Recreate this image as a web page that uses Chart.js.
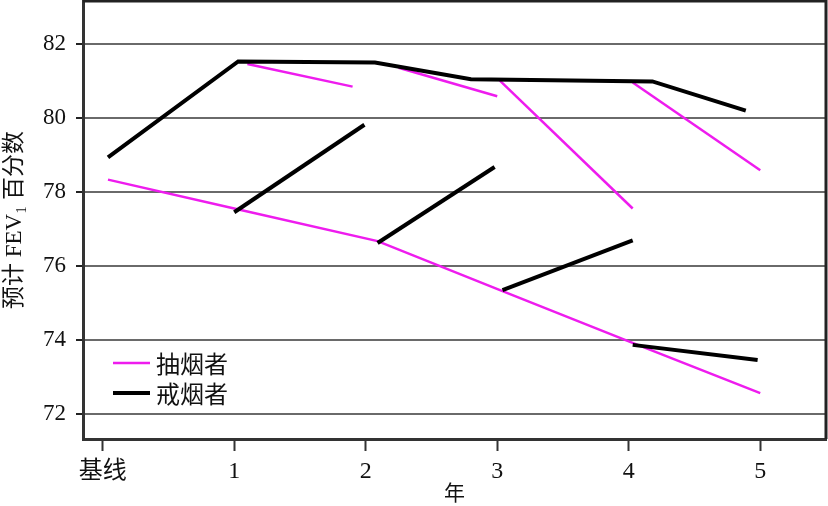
<!DOCTYPE html>
<html>
<head>
<meta charset="utf-8">
<script src="https://cdn.jsdelivr.net/npm/chart.js@4/dist/chart.umd.min.js"></script>
<style>
  html, body { margin: 0; padding: 0; background: #fff; }
  #wrap { width: 828px; height: 506px; }
</style>
</head>
<body>
<div id="wrap"><canvas id="fev"></canvas></div>
<script>
// category labels and ticks
const xLabels = ['基线', '1', '2', '3', '4', '5']
const yTicks = [72, 74, 76, 78, 80, 82]
const seriesNames = ['抽烟者', '戒烟者']

// smokers, main trajectory
const smokerX = [0.04, 1.0, 2.09, 3.04, 4.01, 5.0]
const smokerY = [78.33, 77.55, 76.67, 75.32, 73.95, 72.57]
// smokers, short branches (start, end)
const smokerSegX = [[1.1, 1.9], [2.25, 3.0], [3.02, 4.03], [4.03, 5.0]]
const smokerSegY = [[81.45, 80.84], [81.35, 80.58], [81.0, 77.55], [80.95, 78.58]]

// quitters, main trajectory
const quitterX = [0.04, 1.03, 2.07, 2.8, 4.18, 4.89]
const quitterY = [78.93, 81.52, 81.49, 81.04, 80.98, 80.19]
// quitters, short branches (start, end)
const quitterSegX = [[1.0, 1.99], [2.09, 2.98], [3.04, 4.03], [4.03, 4.98]]
const quitterSegY = [[77.45, 79.81], [76.62, 78.67], [75.35, 76.69], [73.87, 73.46]]

const magenta = '#ee1cee'
const black = '#000000'
const serif = "'Liberation Serif', 'Noto Sans CJK SC', serif"

function pts (xs, ys) {
  return xs.map((x, i) => ({ x: x, y: ys[i] }))
}

function line (data, color, width) {
  return {
    data: data,
    borderColor: color,
    backgroundColor: color,
    borderWidth: width,
    pointRadius: 0,
    tension: 0,
    borderCapStyle: 'butt',
    borderJoinStyle: 'miter'
  }
}

const datasets = []
// black first so it sits on top
datasets.push(line(pts(quitterX, quitterY), black, 4))
quitterSegX.forEach((xs, i) => datasets.push(line(pts(xs, quitterSegY[i]), black, 4)))
datasets.push(line(pts(smokerX, smokerY), magenta, 2.5))
smokerSegX.forEach((xs, i) => datasets.push(line(pts(xs, smokerSegY[i]), magenta, 2.5)))

// frame on top and right, plus the legend in the lower left
const framePlugin = {
  id: 'frame',
  afterDraw (chart) {
    const ctx = chart.ctx
    const a = chart.chartArea
    ctx.save()
    ctx.strokeStyle = '#222'
    ctx.lineWidth = 3
    ctx.beginPath()
    ctx.moveTo(a.left, a.top)
    ctx.lineTo(a.right, a.top)
    ctx.lineTo(a.right, a.bottom)
    ctx.stroke()

    const items = [
      { text: seriesNames[0], color: magenta, width: 2.5, y: 363 },
      { text: seriesNames[1], color: black, width: 4, y: 393 }
    ]
    ctx.font = "24px 'Noto Sans CJK SC', sans-serif"
    ctx.textBaseline = 'middle'
    items.forEach((it) => {
      ctx.strokeStyle = it.color
      ctx.lineWidth = it.width
      ctx.beginPath()
      ctx.moveTo(113, it.y)
      ctx.lineTo(150, it.y)
      ctx.stroke()
      ctx.fillStyle = '#111'
      ctx.fillText(it.text, 156, it.y + 1)
    })
    ctx.restore()
  }
}

const chart = new Chart(
  document.getElementById('fev').getContext('2d'),
  {
    type: 'line',
    data: { datasets: datasets },
    options: {
      responsive: true,
      maintainAspectRatio: false,
      animation: false,
      layout: { padding: { top: 1, right: 2, left: 0, bottom: 0 } },
      plugins: {
        legend: { display: false },
        tooltip: { enabled: false }
      },
      scales: {
        x: {
          type: 'linear',
          min: -0.15,
          max: 5.5,
          afterBuildTicks: (scale) => {
            scale.ticks = xLabels.map((l, i) => ({ value: i }))
          },
          afterFit: (scale) => {
            scale.height = 67
            scale.paddingLeft = 0
            scale.paddingRight = 0
          },
          grid: {
            drawOnChartArea: false,
            drawTicks: true,
            tickLength: 12,
            tickWidth: 2,
            tickColor: '#333'
          },
          border: { display: true, color: '#333', width: 3 },
          ticks: {
            autoSkip: false,
            maxRotation: 0,
            padding: 6,
            color: '#111',
            font: { family: serif, size: 24 },
            callback: (value) => xLabels[value]
          },
          title: {
            display: true,
            text: '年',
            color: '#111',
            font: { family: "'Noto Sans CJK SC', sans-serif", size: 21 },
            padding: { top: 0, bottom: 1 }
          }
        },
        y: {
          min: 71.33,
          max: 83.15,
          afterBuildTicks: (scale) => {
            scale.ticks = yTicks.map((v) => ({ value: v }))
          },
          afterFit: (scale) => {
            scale.width = 83
            scale.paddingTop = 0
            scale.paddingBottom = 0
          },
          grid: {
            color: '#6a6a6a',
            lineWidth: 2,
            drawTicks: true,
            tickLength: 7,
            tickColor: '#222'
          },
          border: { display: true, color: '#333', width: 3 },
          ticks: {
            padding: 10,
            color: '#111',
            font: { family: serif, size: 23 },
            callback: (value) => value
          },
          title: {
            display: true,
            text: '预计 FEV₁ 百分数',
            color: '#111',
            font: { family: serif, size: 23 },
            padding: { top: 1, bottom: 0 }
          }
        }
      }
    },
    plugins: [framePlugin]
  }
)
</script>
</body>
</html>
